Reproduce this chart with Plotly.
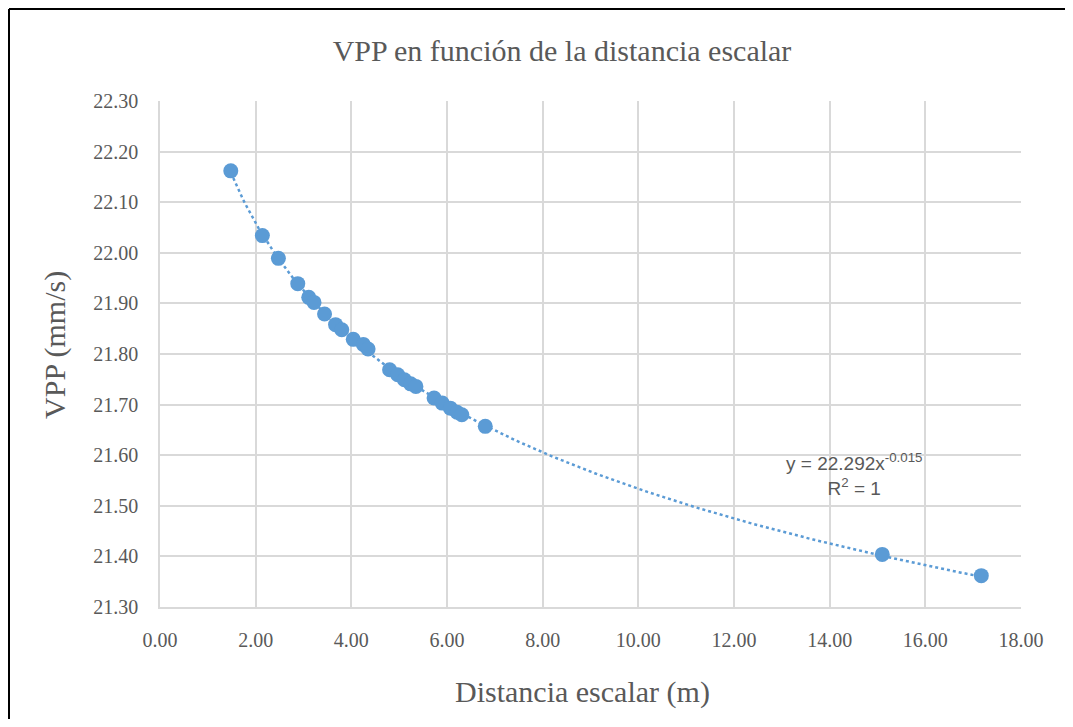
import numpy as np
import plotly.graph_objects as go

# Data
distancia = [1.48, 2.14, 2.475, 2.88, 3.11, 3.22, 3.44, 3.67, 3.80, 4.04, 4.25, 4.35,
             4.80, 4.97, 5.11, 5.24, 5.35, 5.73, 5.90, 6.07, 6.21, 6.31, 6.80, 15.10, 17.17]
vpp = [22.162, 22.034, 21.989, 21.939, 21.912, 21.902, 21.879, 21.858, 21.848, 21.829,
       21.819, 21.810, 21.769, 21.759, 21.749, 21.741, 21.736, 21.713, 21.703, 21.693,
       21.685, 21.680, 21.657, 21.404, 21.362]

x_ticks = [0, 2, 4, 6, 8, 10, 12, 14, 16, 18]
y_ticks = [21.30, 21.40, 21.50, 21.60, 21.70, 21.80, 21.90, 22.00, 22.10, 22.20, 22.30]

title_text = "VPP en función de la distancia escalar"
x_title = "Distancia escalar (m)"
y_title = "VPP (mm/s)"
eq_text = "y = 22.292x<sup>-0.015</sup><br>R<sup>2</sup> = 1"

# Power trendline fitted from the data (log-log least squares)
b, ln_a = np.polyfit(np.log(distancia), np.log(vpp), 1)
a = np.exp(ln_a)
xt = np.linspace(min(distancia), max(distancia), 300)
yt = a * xt ** b

blue = "#5b9bd5"
grey = "#595959"
grid = "#d9d9d9"

W, H = 1057, 711
L, T = 152, 93
PW, PH = 861, 506
R, B = W - L - PW, H - T - PH

fig = go.Figure()
fig.add_trace(go.Scatter(x=xt, y=yt, mode="lines",
                         line=dict(color=blue, width=2.5, dash="dot"),
                         hoverinfo="skip", showlegend=False))
fig.add_trace(go.Scatter(x=distancia, y=vpp, mode="markers",
                         marker=dict(color=blue, size=15),
                         showlegend=False))

fig.add_annotation(x=14.5, y=21.561, xref="x", yref="y", text=eq_text,
                   showarrow=False, align="center",
                   font=dict(family="Liberation Sans", size=19, color=grey))

# Axis titles
fig.add_annotation(x=0.491, y=-85 / PH, xref="paper", yref="paper", text=x_title,
                   showarrow=False, xanchor="center", yanchor="middle",
                   font=dict(family="Liberation Serif", size=30, color=grey))
fig.add_annotation(x=-105 / PW, y=0.518, xref="paper", yref="paper", text=y_title,
                   showarrow=False, xanchor="center", yanchor="middle", textangle=-90,
                   font=dict(family="Liberation Serif", size=30, color=grey))

fig.update_layout(
    width=W, height=H,
    margin=dict(l=L, r=R, t=T, b=B),
    paper_bgcolor="white", plot_bgcolor="white",
    title=dict(text=title_text, x=554 / W, xanchor="center", y=1 - 42 / H, yanchor="middle",
               font=dict(family="Liberation Serif", size=30, color=grey)),
    xaxis=dict(range=[0, 18], tickvals=x_ticks,
               ticktext=[f"{v:.2f}" for v in x_ticks],
               showgrid=True, gridcolor=grid, gridwidth=1.5,
               showline=True, linecolor=grid, linewidth=1.5,
               zeroline=False, ticks="", ticklabelstandoff=14,
               tickfont=dict(family="Liberation Serif", size=20, color=grey)),
    yaxis=dict(range=[21.30, 22.30], tickvals=y_ticks,
               ticktext=[f"{v:.2f}" for v in y_ticks],
               showgrid=True, gridcolor=grid, gridwidth=1.5,
               showline=True, linecolor=grid, linewidth=1.5,
               zeroline=False, ticks="", ticklabelstandoff=16,
               tickfont=dict(family="Liberation Serif", size=20, color=grey)),
)

# Outer frame (top and left edges visible)
fx = -(L - 1) / PW
fy = 1 + (T - 1) / PH
fig.add_shape(type="line", xref="paper", yref="paper",
              x0=fx, x1=1.2, y0=fy, y1=fy,
              line=dict(color="black", width=2))
fig.add_shape(type="line", xref="paper", yref="paper",
              x0=fx, x1=fx, y0=fy, y1=-0.3,
              line=dict(color="black", width=2))

fig.write_html("out.html")
